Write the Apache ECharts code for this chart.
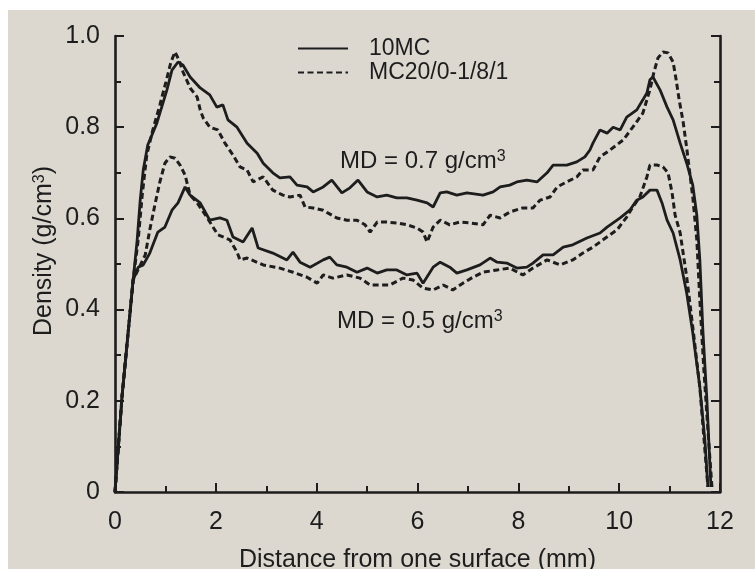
<!DOCTYPE html>
<html><head><meta charset="utf-8">
<script src="https://cdn.jsdelivr.net/npm/echarts@6/dist/echarts.min.js"></script>
<style>html,body{margin:0;padding:0;background:#fff}#c{width:755px;height:569px}</style>
</head><body><div id="c"></div>
<script>
// Density profiles (distance mm, density g/cm3)
const sol07 = [[0,0],[0.14,0.21],[0.36,0.465],[0.44,0.553],[0.50,0.64],[0.56,0.706],[0.65,0.761],[0.83,0.809],[1.03,0.882],[1.13,0.925],[1.25,0.943],[1.35,0.936],[1.49,0.910],[1.69,0.886],[1.88,0.871],[2.02,0.844],[2.14,0.849],[2.24,0.816],[2.42,0.800],[2.62,0.765],[2.82,0.743],[2.94,0.721],[3.13,0.700],[3.27,0.689],[3.47,0.691],[3.61,0.673],[3.81,0.669],[3.93,0.658],[4.13,0.669],[4.30,0.684],[4.50,0.656],[4.66,0.667],[4.82,0.684],[5.00,0.658],[5.20,0.647],[5.39,0.651],[5.59,0.645],[5.79,0.645],[5.99,0.640],[6.19,0.634],[6.31,0.625],[6.45,0.656],[6.58,0.658],[6.78,0.651],[6.98,0.656],[7.30,0.651],[7.50,0.658],[7.64,0.669],[7.83,0.673],[7.97,0.680],[8.17,0.684],[8.37,0.680],[8.57,0.700],[8.69,0.717],[8.96,0.717],[9.16,0.724],[9.32,0.735],[9.42,0.750],[9.48,0.765],[9.62,0.794],[9.76,0.787],[9.88,0.800],[10.02,0.794],[10.15,0.822],[10.35,0.838],[10.47,0.860],[10.55,0.875],[10.61,0.904],[10.67,0.910],[10.81,0.882],[10.95,0.844],[11.07,0.816],[11.21,0.765],[11.34,0.721],[11.46,0.673],[11.54,0.607],[11.60,0.509],[11.66,0.355],[11.74,0.202],[11.82,0.011]];
const das07 = [[0,0],[0.14,0.21],[0.36,0.465],[0.46,0.553],[0.54,0.651],[0.63,0.739],[0.75,0.794],[0.89,0.849],[1.01,0.899],[1.11,0.943],[1.19,0.965],[1.27,0.947],[1.35,0.921],[1.49,0.886],[1.63,0.866],[1.69,0.838],[1.75,0.820],[1.88,0.800],[2.04,0.794],[2.18,0.765],[2.34,0.739],[2.48,0.713],[2.62,0.706],[2.74,0.680],[2.94,0.691],[3.13,0.662],[3.33,0.651],[3.47,0.647],[3.67,0.651],[3.77,0.625],[3.93,0.623],[4.13,0.618],[4.22,0.612],[4.40,0.601],[4.60,0.596],[4.80,0.596],[4.96,0.586],[5.06,0.570],[5.20,0.592],[5.39,0.592],[5.59,0.590],[5.79,0.586],[5.99,0.579],[6.11,0.570],[6.19,0.548],[6.31,0.581],[6.45,0.596],[6.64,0.586],[6.84,0.592],[7.04,0.590],[7.30,0.586],[7.44,0.607],[7.64,0.601],[7.83,0.614],[8.09,0.623],[8.29,0.623],[8.43,0.640],[8.63,0.647],[8.77,0.669],[8.96,0.680],[9.16,0.691],[9.28,0.706],[9.48,0.706],[9.62,0.735],[9.82,0.750],[10.08,0.772],[10.27,0.800],[10.47,0.831],[10.61,0.882],[10.69,0.921],[10.77,0.952],[10.87,0.965],[10.97,0.963],[11.07,0.943],[11.13,0.904],[11.19,0.860],[11.27,0.811],[11.34,0.754],[11.40,0.700],[11.46,0.647],[11.54,0.553],[11.60,0.421],[11.68,0.268],[11.76,0.136],[11.84,0.011]];
const sol05 = [[0,0],[0.14,0.21],[0.36,0.465],[0.46,0.493],[0.56,0.498],[0.69,0.524],[0.85,0.570],[0.99,0.581],[1.13,0.618],[1.25,0.634],[1.39,0.669],[1.49,0.651],[1.69,0.634],[1.88,0.596],[2.08,0.601],[2.22,0.596],[2.34,0.559],[2.54,0.548],[2.72,0.579],[2.84,0.535],[3.13,0.524],[3.41,0.509],[3.53,0.526],[3.67,0.504],[3.87,0.493],[4.13,0.509],[4.26,0.515],[4.40,0.498],[4.60,0.493],[4.80,0.482],[5.00,0.491],[5.20,0.480],[5.39,0.487],[5.59,0.487],[5.79,0.476],[5.99,0.480],[6.11,0.458],[6.31,0.493],[6.45,0.504],[6.64,0.493],[6.78,0.480],[6.98,0.487],[7.24,0.498],[7.44,0.513],[7.58,0.504],[7.77,0.502],[7.97,0.491],[8.17,0.493],[8.29,0.502],[8.49,0.520],[8.69,0.520],[8.89,0.537],[9.08,0.542],[9.36,0.557],[9.62,0.568],[9.76,0.581],[10.02,0.601],[10.21,0.618],[10.35,0.640],[10.47,0.647],[10.61,0.662],[10.75,0.662],[10.85,0.634],[10.95,0.596],[11.07,0.568],[11.21,0.509],[11.34,0.436],[11.46,0.349],[11.60,0.230],[11.70,0.114],[11.76,0.011]];
const das05 = [[0,0],[0.14,0.21],[0.36,0.465],[0.60,0.520],[0.69,0.575],[0.79,0.629],[0.89,0.680],[0.99,0.721],[1.09,0.735],[1.19,0.732],[1.29,0.717],[1.39,0.695],[1.49,0.651],[1.63,0.634],[1.82,0.603],[2.04,0.564],[2.28,0.553],[2.42,0.526],[2.48,0.509],[2.62,0.513],[2.94,0.498],[3.27,0.491],[3.53,0.482],[3.81,0.471],[4.01,0.458],[4.13,0.476],[4.32,0.469],[4.60,0.476],[4.86,0.469],[5.06,0.454],[5.26,0.454],[5.45,0.454],[5.71,0.469],[5.91,0.465],[6.11,0.447],[6.31,0.443],[6.51,0.454],[6.70,0.443],[6.90,0.458],[7.10,0.471],[7.30,0.482],[7.58,0.487],[7.83,0.491],[8.09,0.476],[8.29,0.491],[8.57,0.509],[8.83,0.498],[9.08,0.509],[9.28,0.524],[9.48,0.537],[9.68,0.553],[9.96,0.575],[10.15,0.603],[10.27,0.625],[10.41,0.647],[10.55,0.691],[10.61,0.717],[10.75,0.717],[10.87,0.713],[10.97,0.700],[11.05,0.656],[11.11,0.607],[11.21,0.568],[11.34,0.471],[11.46,0.362],[11.60,0.230],[11.70,0.092],[11.76,0.011]];

const seriesNames = ['10MC', 'MC20/0-1/8/1'];
const xTitle = 'Distance from one surface (mm)';
const yTitle = '{a|Density (g/cm}{s|3}{a|)}';
const noteHigh = '{a|MD = 0.7 g/cm}{s|3}';
const noteLow = '{a|MD = 0.5 g/cm}{s|3}';

const FONT = '"Liberation Sans", Arial, sans-serif';
const INK = '#1d1d1d';
const PAPER = '#dcd8d0';
const DASH = [6, 3.5];

const chart = echarts.init(document.getElementById('c'), null, {renderer: 'canvas'});

function yAxisDef(pos, showLabel) {
  return {
    type: 'value', min: 0, max: 1, interval: 0.2, position: pos,
    axisLine: {show: true, onZero: false, lineStyle: {color: INK, width: 2.6}},
    axisTick: {show: true, inside: true, length: 9, lineStyle: {color: INK, width: 2}},
    minorTick: {show: true, splitNumber: 2, length: 6, lineStyle: {color: INK, width: 2}},
    splitLine: {show: false}, minorSplitLine: {show: false},
    axisLabel: {show: showLabel, fontSize: 25, color: INK, fontFamily: FONT, margin: 15,
      showMinLabel: true, showMaxLabel: true,
      formatter: v => v === 0 ? '0' : v.toFixed(1)}
  };
}

const lineStyleOf = (dashed) => ({color: INK, width: dashed ? 3 : 2.8, type: dashed ? DASH : 'solid'});
function mk(name, data, dashed) {
  return {type: 'line', name, data, showSymbol: false, symbol: 'none', smooth: false,
    lineStyle: lineStyleOf(dashed), itemStyle: {color: INK}, animation: false};
}

const rich = (size) => ({
  a: {fontSize: size, fontFamily: FONT, fill: INK, color: INK, verticalAlign: 'bottom'},
  s: {fontSize: Math.round(size * 0.65), fontFamily: FONT, fill: INK, color: INK, verticalAlign: 'top'}
});

chart.setOption({
  backgroundColor: PAPER,
  animation: false,
  grid: {left: 115, right: 35, top: 36, bottom: 77, containLabel: false, outerBoundsMode: 'none'},
  legend: {
    data: seriesNames, orient: 'vertical', left: 297, top: 37, padding: 0,
    itemWidth: 50, itemHeight: 14, itemGap: 1,
    itemStyle: {color: 'rgba(0,0,0,0)', borderColor: 'rgba(0,0,0,0)', borderWidth: 0, opacity: 0},
    textStyle: {fontSize: 23, color: INK, fontFamily: FONT, padding: [0, 0, 0, 16]}
  },
  xAxis: {
    type: 'value', min: 0, max: 12, interval: 2,
    name: xTitle, nameLocation: 'middle', nameGap: 56,
    nameTextStyle: {fontSize: 25, color: INK, fontFamily: FONT},
    axisLine: {show: true, onZero: false, lineStyle: {color: INK, width: 2.6}},
    axisTick: {show: true, inside: true, length: 9, lineStyle: {color: INK, width: 2}},
    minorTick: {show: true, splitNumber: 2, length: 6, lineStyle: {color: INK, width: 2}},
    splitLine: {show: false}, minorSplitLine: {show: false},
    axisLabel: {fontSize: 25, color: INK, fontFamily: FONT, margin: 18, showMinLabel: true, showMaxLabel: true}
  },
  yAxis: [yAxisDef('left', true), yAxisDef('right', false)],
  series: [
    mk(seriesNames[0], sol07, false),
    mk(seriesNames[1], das07, true),
    mk(seriesNames[0], sol05, false),
    mk(seriesNames[1], das05, true)
  ],
  graphic: [
    {type: 'rect', shape: {x: 0, y: 0, width: 755, height: 10}, style: {fill: '#ffffff'}, silent: true},
    {type: 'rect', shape: {x: 0, y: 0, width: 8, height: 569}, style: {fill: '#ffffff'}, silent: true},
    {type: 'text', x: 340, y: 161, style: {text: noteHigh, rich: rich(24), align: 'left', verticalAlign: 'middle'}},
    {type: 'text', x: 337, y: 321, style: {text: noteLow, rich: rich(24), align: 'left', verticalAlign: 'middle'}},
    {type: 'text', x: 44, y: 251, rotation: Math.PI / 2,
      style: {text: yTitle, rich: rich(25), align: 'center', verticalAlign: 'middle'}}
  ]
});
</script>
</body></html>
